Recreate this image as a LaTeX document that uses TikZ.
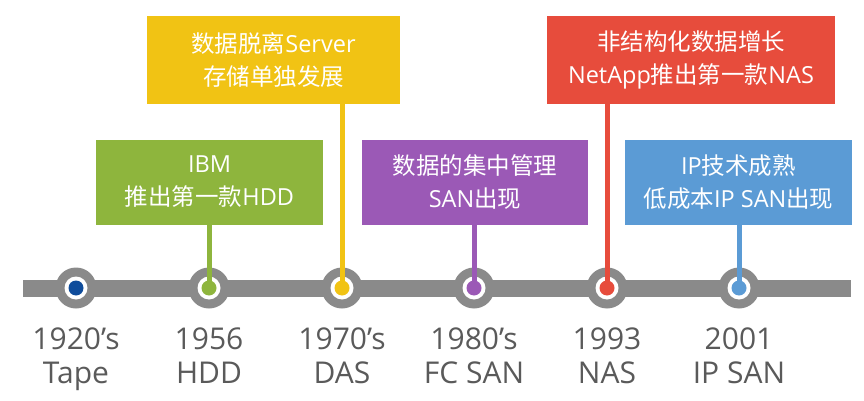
\documentclass[tikz,border=0pt]{standalone}
\usepackage{fontspec}
\setmainfont{Open Sans}
\newfontfamily\cjk{Noto Sans CJK SC}
\newcommand{\zh}[1]{{\cjk #1}}
\usetikzlibrary{positioning}
\definecolor{tlgray}{HTML}{8A8A8A}
\definecolor{txtgray}{HTML}{5A5A5A}
\definecolor{tapeblue}{HTML}{0F4C9B}
\definecolor{hddgreen}{HTML}{8EB53D}
\definecolor{dasyellow}{HTML}{F1C314}
\definecolor{sanpurple}{HTML}{9B59B6}
\definecolor{nasred}{HTML}{E74C3C}
\definecolor{ipblue}{HTML}{5B9BD5}

\begin{document}
\begin{tikzpicture}[x=1pt, y=-1pt,
  ring/.style={circle, fill=tlgray, minimum size=41pt, inner sep=0pt},
  hole/.style={circle, fill=white, minimum size=23pt, inner sep=0pt},
  dot/.style={circle, fill=#1, minimum size=15pt, inner sep=0pt},
  event/.style={fill=#1, text=white, align=center, inner sep=0pt,
                font=\fontsize{23.5}{33}\selectfont},
  year/.style={text=txtgray, align=center, anchor=base,
               font=\fontsize{30}{34}\selectfont},
  stem/.style={draw=#1, line width=5pt},
]
\useasboundingbox (0,0) rectangle (864,401);

% time line
\coordinate (barL) at (23,288);
\coordinate (barR) at (851,288);
\draw[tlgray, line width=17pt] (barL) -- (barR);

\foreach \i/\x in {1/76, 2/209, 3/342, 4/474, 5/607, 6/739} {
  \node[ring] (ring\i) at (\x,288) {};
  \node[hole] (hole\i) at (ring\i) {};
}

% events
\node[event=hddgreen, minimum width=227pt, minimum height=85pt] (hdd) at (209.5,182)
  {IBM\\\zh{推出第一款}HDD};
\node[event=dasyellow, minimum width=253pt, minimum height=88pt] (das) at (273.5,60)
  {\zh{数据脱离}Server\\\zh{存储单独发展}};
\node[event=sanpurple, minimum width=226pt, minimum height=85pt] (fcsan) at (475,182)
  {\zh{数据的集中管理}\\SAN\zh{出现}};
\node[event=nasred, minimum width=288pt, minimum height=88pt] (nas) at (691,60)
  {\zh{非结构化数据增长}\\NetApp\zh{推出第一款}NAS};
\node[event=ipblue, minimum width=227pt, minimum height=85pt] (ipsan) at (738.5,182)
  {IP\zh{技术成熟}\\\zh{低成本}IP SAN\zh{出现}};

\draw[stem=hddgreen] (ring2 |- hdd.south) -- (ring2.center);
\draw[stem=dasyellow] (ring3 |- das.south) -- (ring3.center);
\draw[stem=sanpurple] (ring4 |- fcsan.south) -- (ring4.center);
\draw[stem=nasred] (ring5 |- nas.south) -- (ring5.center);
\draw[stem=ipblue] (ring6 |- ipsan.south) -- (ring6.center);

\node[dot=tapeblue] (dot1) at (ring1) {};
\node[dot=hddgreen] (dot2) at (ring2) {};
\node[dot=dasyellow] (dot3) at (ring3) {};
\node[dot=sanpurple] (dot4) at (ring4) {};
\node[dot=nasred] (dot5) at (ring5) {};
\node[dot=ipblue] (dot6) at (ring6) {};

% years
\node[year] (y1) at (76,383) {1920's\\Tape};
\node[year] (y2) at (209,383) {1956\\HDD};
\node[year] (y3) at (342,383) {1970's\\DAS};
\node[year] (y4) at (474,383) {1980's\\FC SAN};
\node[year] (y5) at (607,383) {1993\\NAS};
\node[year] (y6) at (739,383) {2001\\IP SAN};

\end{tikzpicture}
\end{document}
